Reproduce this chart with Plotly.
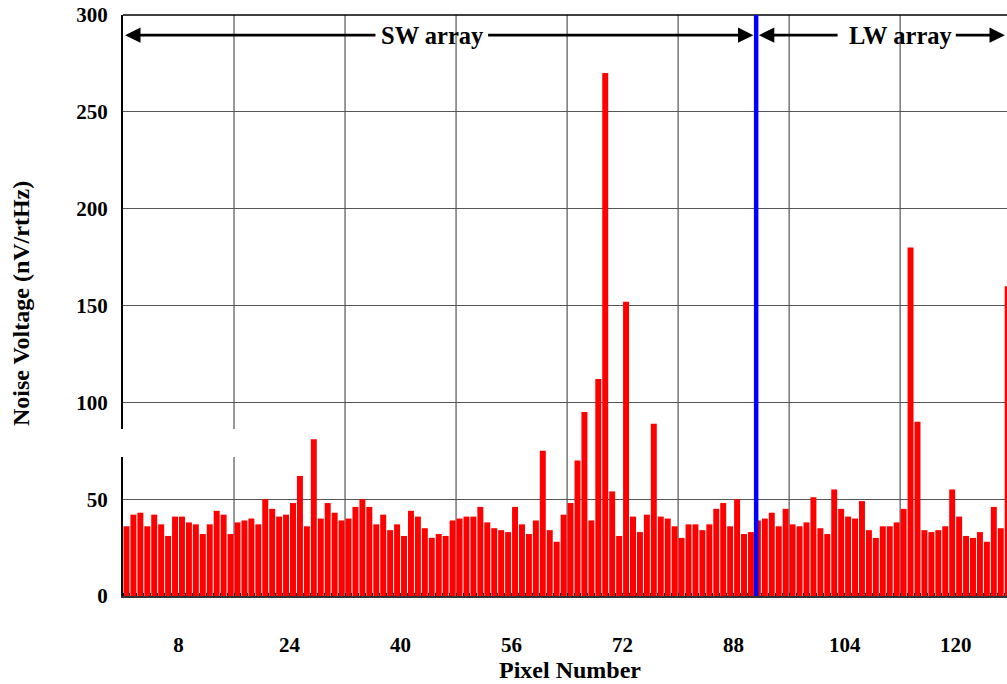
import plotly.graph_objects as go

# Noise per detector pixel, nV/rtHz
pixels = list(range(1, 129))
noise_nv = [
    36, 42, 43, 36, 42, 37, 31, 41, 41, 38, 37, 32, 37, 44, 42, 32,
    38, 39, 40, 37, 50, 45, 41, 42, 48, 62, 36, 81, 40, 48, 43, 39,
    40, 46, 50, 46, 37, 42, 34, 37, 31, 44, 41, 35, 30, 32, 31, 39,
    40, 41, 41, 46, 38, 35, 34, 33, 46, 37, 32, 39, 75, 34, 28, 42,
    48, 70, 95, 39, 112, 270, 54, 31, 152, 41, 33, 42, 89, 41, 40, 36,
    30, 37, 37, 34, 37, 45, 48, 36, 50, 32, 33, 39, 40, 43, 36, 45,
    37, 36, 38, 51, 35, 32, 55, 45, 41, 40, 49, 34, 30, 36, 36, 38,
    45, 180, 90, 34, 33, 34, 36, 55, 41, 31, 30, 33, 28, 46, 35, 160,
]
x_tick_values = [8, 24, 40, 56, 72, 88, 104, 120]
y_tick_values = [0, 50, 100, 150, 200, 250, 300]
array_boundary = 91.25  # SW / LW split
array_labels = ["SW array", "LW array"]

SERIF = "Liberation Serif, Times New Roman, serif"
X_MAX = 127.4
ARROW_Y = 289.6

# each bar fills the cell between pixel-1 and pixel
bar_x = [p - 0.5 for p in pixels]

fig = go.Figure(
    go.Bar(
        x=bar_x,
        y=noise_nv,
        width=0.86,
        marker=dict(color="#ff0000", line=dict(width=0)),
        hovertemplate="Pixel %{customdata}: %{y} nV/rtHz<extra></extra>",
        customdata=pixels,
    )
)

fig.update_layout(
    width=1007,
    height=684,
    margin=dict(l=123, r=0, t=15, b=88),
    plot_bgcolor="white",
    paper_bgcolor="white",
    showlegend=False,
    font=dict(family=SERIF, size=21, color="black"),
)

fig.update_xaxes(
    range=[0, X_MAX],
    tickvals=x_tick_values,
    ticktext=[str(v) for v in x_tick_values],
    ticks="",
    showgrid=False,
    zeroline=False,
    showline=True,
    linecolor="#333333",
    linewidth=2,
    tickfont=dict(family=SERIF, size=21, color="black", weight="bold"),
    ticklabelstandoff=29,
    minor=dict(tick0=0, dtick=1, ticks="inside", ticklen=3,
               tickcolor="black", tickwidth=1, showgrid=False),
)

fig.update_yaxes(
    range=[0, 300],
    tickvals=y_tick_values,
    ticktext=[str(v) for v in y_tick_values],
    ticks="",
    showgrid=True,
    gridcolor="#555555",
    gridwidth=1,
    zeroline=False,
    showline=True,
    linecolor="black",
    linewidth=2,
    tickfont=dict(family=SERIF, size=21, color="black", weight="bold"),
    ticklabelstandoff=9,
)

shapes = []
# vertical grid every 16 pixels
for gx in range(16, int(X_MAX) + 1, 16):
    shapes.append(dict(type="line", xref="x", yref="paper", x0=gx, x1=gx,
                       y0=0, y1=1, line=dict(color="#333333", width=1),
                       layer="below"))
# top frame
shapes.append(dict(type="line", xref="paper", yref="paper", x0=0, x1=1,
                   y0=1, y1=1, line=dict(color="black", width=1.5)))
# blank patch on the left frame
shapes.append(dict(type="rect", xref="paper", yref="paper", x0=-0.008, x1=0.128,
                   y0=0.2392, y1=0.2874, fillcolor="white",
                   line=dict(width=0), layer="above"))
# array boundary
shapes.append(dict(type="line", xref="x", yref="paper", x0=array_boundary,
                   x1=array_boundary, y0=0, y1=1,
                   line=dict(color="#0000ff", width=4.5), layer="above"))
fig.update_layout(shapes=shapes)

annotations = []


def arrow(head_x, tail_x):
    annotations.append(dict(
        x=head_x, y=ARROW_Y, ax=tail_x, ay=ARROW_Y,
        xref="x", yref="y", axref="x", ayref="y",
        text="", showarrow=True, arrowhead=2, arrowsize=1.1,
        arrowwidth=2.8, arrowcolor="black", standoff=0, startstandoff=0,
    ))


# SW span: pixel 0 to the boundary
arrow(0.3, 36.6)
arrow(array_boundary - 0.4, 52.4)
annotations.append(dict(x=44.6, y=ARROW_Y, xref="x", yref="y",
                        text=array_labels[0], showarrow=False,
                        font=dict(family=SERIF, size=24.5, color="black", weight="bold"),
                        xanchor="center", yanchor="middle"))
# LW span: boundary to the last pixel
arrow(array_boundary + 0.4, 103.2)
arrow(127.1, 119.8)
annotations.append(dict(x=112.1, y=ARROW_Y, xref="x", yref="y",
                        text=array_labels[1], showarrow=False,
                        font=dict(family=SERIF, size=24.5, color="black", weight="bold"),
                        xanchor="center", yanchor="middle"))

# axis titles
annotations.append(dict(x=-0.1155, y=0.504, xref="paper", yref="paper",
                        text="Noise Voltage (nV/rtHz)", textangle=-90,
                        showarrow=False, xanchor="center", yanchor="middle",
                        font=dict(family=SERIF, size=24, color="black", weight="bold")))
annotations.append(dict(x=0.5057, y=-0.127, xref="paper", yref="paper",
                        text="Pixel Number", showarrow=False,
                        xanchor="center", yanchor="middle",
                        font=dict(family=SERIF, size=24, color="black", weight="bold")))
fig.update_layout(annotations=annotations)

fig.write_html("out.html")
